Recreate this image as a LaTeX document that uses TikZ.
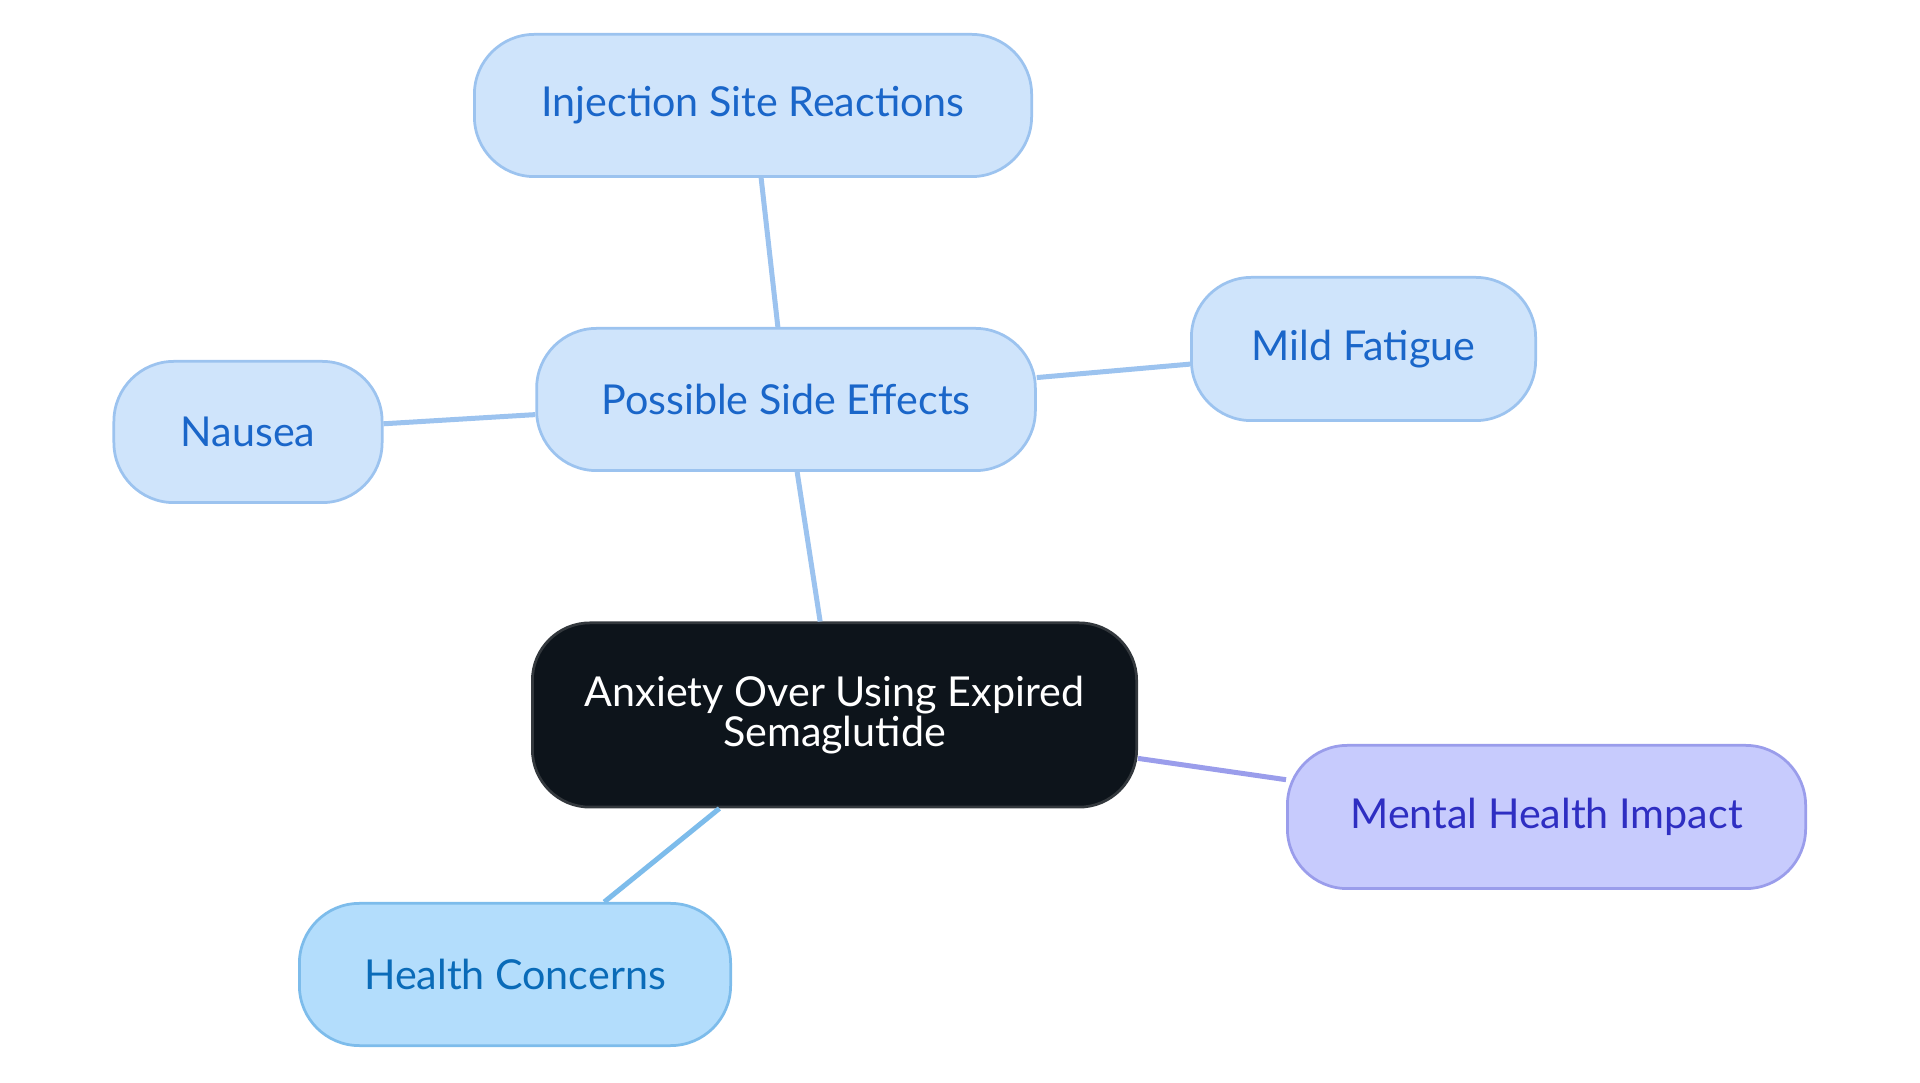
\documentclass[tikz,border=0pt]{standalone}
\usepackage{fontspec}
\setmainfont{Lato}
\definecolor{bfill}{HTML}{CFE4FB}
\definecolor{bdraw}{HTML}{9CC3EF}
\definecolor{btext}{HTML}{1A66C9}
\definecolor{cfill}{HTML}{0D141B}
\definecolor{cdraw}{HTML}{33383D}
\definecolor{mfill}{HTML}{C7CBFD}
\definecolor{mdraw}{HTML}{9A9DEB}
\definecolor{mtext}{HTML}{2E2EC2}
\definecolor{hfill}{HTML}{B3DDFC}
\definecolor{hdraw}{HTML}{7DBCEB}
\definecolor{htext}{HTML}{0A6BB8}
\tikzset{
  pill/.style={rounded corners=24pt, line width=1.1pt, inner sep=0pt, align=center,
    font=\fontsize{16.5}{16.3}\selectfont},
  bnode/.style={pill, fill=bfill, draw=bdraw, text=btext},
  cnode/.style={pill, rounded corners=23pt, fill=cfill, draw=cdraw, text=white},
  mnode/.style={pill, fill=mfill, draw=mdraw, text=mtext},
  hnode/.style={pill, fill=hfill, draw=hdraw, text=htext},
  link/.style={line width=2pt, draw=bdraw},
}
\begin{document}
\begin{tikzpicture}[x=0.4pt,y=-0.4pt]
\useasboundingbox (0,0) rectangle (1920,1083);
\node[cnode, minimum width=241.7pt, minimum height=73.7pt] (c) at (834.5,715) {Anxiety Over Using Expired\\Semaglutide};
\node[bnode, minimum width=199.5pt, minimum height=56.9pt] (p) at (786,399.5) {Possible Side Effects};
\node[bnode, minimum width=222.9pt, minimum height=56.9pt] (i) at (753,105.5) {Injection Site Reactions};
\node[bnode, minimum width=107.3pt, minimum height=56.5pt] (n) at (248,432) {Nausea};
\node[bnode, minimum width=137.7pt, minimum height=57.3pt] (f) at (1363.5,349) {Mild Fatigue};
\node[mnode, minimum width=207.3pt, minimum height=57.3pt] (m) at (1546.5,817) {Mental Health Impact};
\node[hnode, minimum width=172.5pt, minimum height=56.9pt] (h) at (515,974.5) {Health Concerns};
\draw[link] (i) -- (p);
\draw[link] (p) -- (c);
\draw[link] (n) -- (p);
\draw[link] (p) -- (f);
\draw[link, draw=mdraw] (c) -- (m);
\draw[link, draw=hdraw] (c) -- (h);
\end{tikzpicture}
\end{document}
